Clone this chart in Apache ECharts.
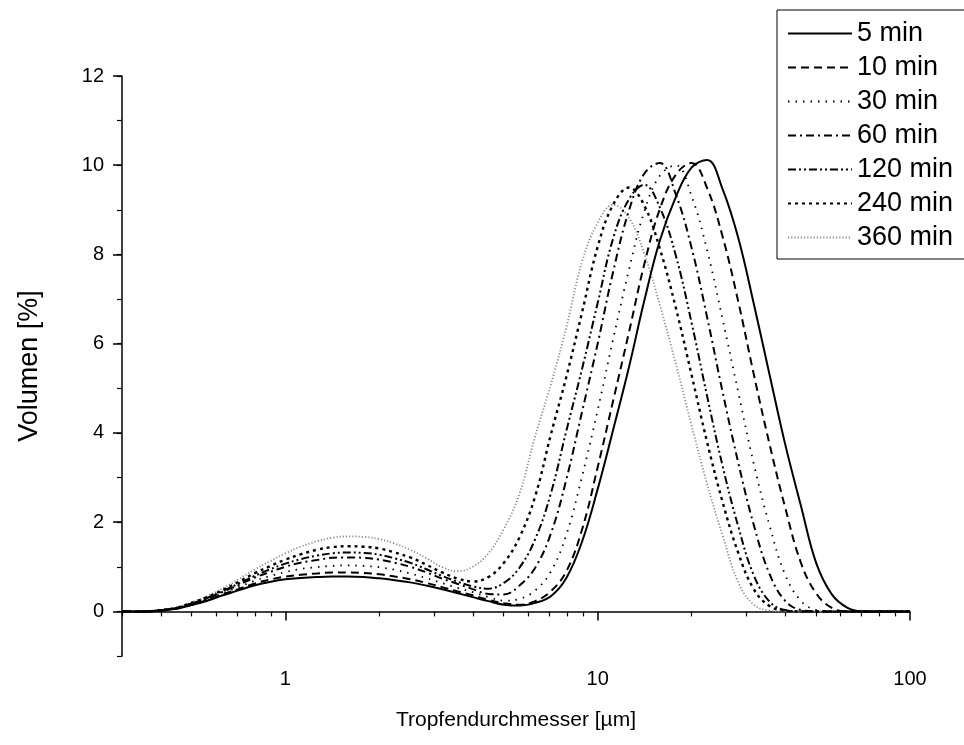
<!DOCTYPE html>
<html>
<head>
<meta charset="utf-8">
<script src="https://cdn.jsdelivr.net/npm/echarts@6/dist/echarts.min.js"></script>
<style>
  html, body { margin: 0; padding: 0; background: #fff; }
  #chart { width: 964px; height: 745px; }
</style>
</head>
<body>
<div id="chart"></div>
<script>
// droplet diameter in µm (log spaced)
let diameters = [0.3, 0.316, 0.355, 0.398, 0.447, 0.501, 0.562, 0.631, 0.708, 0.794, 0.891,
  1, 1.12, 1.26, 1.41, 1.58, 1.78, 2, 2.24, 2.51, 2.82,
  3.16, 3.55, 3.98, 4.47, 5.01, 5.62, 6.31, 7.08, 7.94, 8.91,
  10, 11.2, 12.6, 14.1, 15.8, 17.8, 20, 22.4, 25.1, 28.2,
  31.6, 35.5, 39.8, 44.7, 50.1, 56.2, 63.1, 70.8, 79.4, 89.1, 100];

// volume [%] per curve
let min5 = [0, 0,0,.02,.06,.14,.24,.36,.47,.58,.66, .72,.75,.77,.78,.78,.77,.74,.70,.65,.58,
  .50,.41,.32,.23,.15,.13,.19,.34,.75,1.56, 2.74,4.06,5.48,6.96,8.30,9.29,9.95,10.12,9.47,8.37,
  6.90,5.31,3.76,2.38,1.08,.38,.08,0,0,0, 0];
let min10 = [0, 0,0,.02,.06,.15,.25,.38,.50,.62,.71, .78,.82,.85,.87,.87,.86,.83,.78,.72,.64,
  .55,.45,.36,.26,.18,.15,.23,.45,.90,1.83, 3.23,4.71,6.26,7.78,9.01,9.79,10.05,9.49,8.41,6.94,
  5.32,3.75,2.34,1.10,.40,.08,0,0,0,0, 0];
let min30 = [0, 0,0,.02,.07,.16,.27,.41,.54,.68,.79, .88,.95,.99,1.02,1.03,1.02,.99,.93,.85,.75,
  .64,.53,.43,.32,.24,.28,.47,.89,1.72,3.02, 4.51,6.09,7.66,8.96,9.76,10.0,9.30,8.10,6.56,4.91,
  3.31,1.93,.83,.24,.03,0,0,0,0,0, 0];
let min60 = [0, 0,0,.02,.07,.17,.29,.44,.59,.75,.88, 1.0,1.09,1.15,1.20,1.21,1.20,1.16,1.09,1.0,.88,
  .74,.62,.50,.39,.38,.58,.98,1.74,2.96,4.47, 6.0,7.6,8.99,9.81,10.05,9.34,8.14,6.60,4.93,3.33,
  1.94,.84,.24,.03,0,0,0,0,0,0, 0];
let min120 = [0, 0,0,.03,.08,.18,.30,.46,.62,.79,.94, 1.07,1.17,1.25,1.30,1.32,1.31,1.27,1.19,1.09,.95,
  .80,.67,.56,.51,.64,.98,1.62,2.64,4.05,5.43, 6.91,8.35,9.24,9.56,9.06,7.97,6.46,4.83,3.27,1.90,
  .81,.22,.03,0,0,0,0,0,0,0, 0];
let min240 = [0, 0,0,.03,.08,.19,.32,.48,.66,.85,1.01, 1.16,1.28,1.38,1.44,1.46,1.45,1.41,1.32,1.21,1.05,
  .88,.74,.67,.77,1.09,1.66,2.58,3.96,5.26,6.70, 8.17,9.11,9.5,9.10,8.14,6.80,5.29,3.80,2.46,1.31,
  .50,.12,.02,0,0,0,0,0,0,0, 0];
let min360 = [0, 0,0,.03,.09,.20,.34,.52,.72,.93,1.12, 1.30,1.45,1.57,1.65,1.68,1.67,1.62,1.52,1.38,1.20,
  1.0,.90,1.0,1.30,1.85,2.64,3.93,5.08,6.37,7.83, 8.71,9.11,8.82,8.02,6.88,5.55,4.16,2.86,1.71,.65,
  .15,.02,0,0,0,0,0,0,0,0, 0];

let seriesNames = ['5 min', '10 min', '30 min', '60 min', '120 min', '240 min', '360 min'];
let xMajorTicks = [1, 10, 100];
let xMinorTicks = [0.3, 0.4, 0.5, 0.6, 0.7, 0.8, 0.9, 2, 3, 4, 5, 6, 7, 8, 9, 20, 30, 40, 50, 60, 70, 80, 90];
let yMajorTicks = [0, 2, 4, 6, 8, 10, 12];

const font = 'Liberation Sans, Arial, sans-serif';

function pairs(ys) {
    return diameters.map((d, i) => [d, ys[i]]);
}

function makeLine(name, ys, style) {
    return {
        name: name,
        type: 'line',
        data: pairs(ys),
        smooth: 0.4,
        symbol: 'none',
        showSymbol: false,
        lineStyle: style,
        color: style.color,
        z: style.z
    };
}

let option = {
    animation: false,
    backgroundColor: '#fff',
    grid: { left: 122, right: 54, top: 76, bottom: 89 },
    legend: {
        data: seriesNames,
        orient: 'vertical',
        left: 777,
        top: 10,
        itemWidth: 64,
        itemHeight: 20,
        itemGap: 7,
        padding: [10, 60, 8, 10],
        borderColor: '#000',
        borderWidth: 1,
        itemStyle: { opacity: 0 },
        textStyle: { fontSize: 27, fontFamily: font, color: '#000' }
    },
    xAxis: [{
        type: 'log',
        logBase: 10,
        min: 0.3,
        max: 100,
        name: 'Tropfendurchmesser [µm]',
        nameLocation: 'middle',
        nameGap: 54,
        nameTextStyle: { fontSize: 21, fontFamily: font, color: '#000' },
        axisLine: { lineStyle: { color: '#000', width: 1.5 } },
        axisTick: { length: 9, customValues: xMajorTicks, lineStyle: { color: '#000', width: 1.5 } },
        axisLabel: { customValues: xMajorTicks, margin: 13, fontSize: 20, fontFamily: font, color: '#000',
            formatter: v => String(v) },
        splitLine: { show: false }
    }, {
        type: 'log',
        logBase: 10,
        min: 0.3,
        max: 100,
        position: 'bottom',
        axisLine: { show: false },
        axisTick: { length: 5, customValues: xMinorTicks, lineStyle: { color: '#000', width: 1.2 } },
        axisLabel: { show: false },
        splitLine: { show: false }
    }],
    yAxis: [{
        type: 'value',
        min: -1,
        max: 12,
        interval: 1,
        name: 'Volumen [%]',
        nameLocation: 'middle',
        nameGap: 79,
        nameTextStyle: { fontSize: 27, fontFamily: font, color: '#000' },
        axisLine: { show: true, lineStyle: { color: '#000', width: 1.5 } },
        axisTick: { show: true, length: 5, lineStyle: { color: '#000', width: 1.2 } },
        axisLabel: { margin: 18, fontSize: 20, fontFamily: font, color: '#000',
            formatter: v => (v >= 0 && v % 2 === 0) ? String(v) : '' },
        splitLine: { show: false }
    }, {
        type: 'value',
        min: -1,
        max: 12,
        position: 'left',
        axisLine: { show: false },
        axisTick: { show: true, length: 9, customValues: yMajorTicks, lineStyle: { color: '#000', width: 1.5 } },
        axisLabel: { show: false },
        splitLine: { show: false }
    }],
    series: [
        makeLine('360 min', min360, { color: '#8a8a8a', width: 1.8, type: [1.2, 2], z: 1 }),
        makeLine('240 min', min240, { color: '#000', width: 2.4, type: [3, 4], z: 2 }),
        makeLine('120 min', min120, { color: '#000', width: 2, type: [8, 3, 2, 3, 2, 3], z: 3 }),
        makeLine('60 min', min60, { color: '#000', width: 2, type: [8, 4, 2, 4], z: 4 }),
        makeLine('30 min', min30, { color: '#000', width: 1.8, type: [1.5, 6], z: 5 }),
        makeLine('10 min', min10, { color: '#000', width: 2, type: [8, 5], z: 6 }),
        makeLine('5 min', min5, { color: '#000', width: 2, type: 'solid', z: 7 })
    ]
};

let myChart = echarts.init(document.getElementById('chart'));
myChart.setOption(option);
</script>
</body>
</html>
